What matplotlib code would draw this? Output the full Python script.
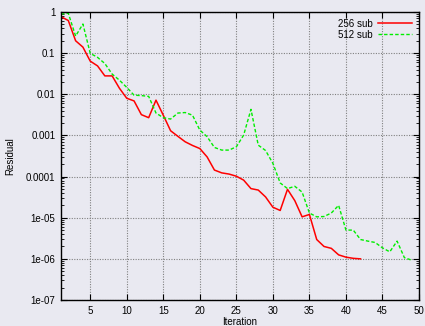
import matplotlib
matplotlib.use("Agg")
import matplotlib.pyplot as plt
from matplotlib.ticker import LogLocator, FixedLocator, NullFormatter

plt.rcParams['font.family'] = ['Liberation Sans', 'DejaVu Sans']

# Residual history per iteration for the two subdomain counts
res_256 = [0.77, 0.62, 0.20, 0.14, 0.064, 0.049, 0.028, 0.028, 0.014, 0.008,
           0.0069, 0.0032, 0.0027, 0.0072, 0.0031, 0.0013, 0.00095, 0.0007, 0.00057, 0.00048,
           0.0003, 0.000144, 0.000123, 0.000115, 0.000102, 8.2e-5, 5.1e-5, 4.7e-5, 3.2e-5, 1.8e-5,
           1.5e-5, 4.9e-5, 2.6e-5, 1.05e-5, 1.2e-5, 2.95e-6, 2.0e-6, 1.8e-6, 1.25e-6, 1.1e-6,
           1.03e-6, 1.0e-6]
res_512 = [0.89, 0.93, 0.26, 0.51, 0.099, 0.079, 0.056, 0.031, 0.022, 0.0147,
           0.0095, 0.0093, 0.0089, 0.0035, 0.0027, 0.0025, 0.0035, 0.0036, 0.0031, 0.00135,
           0.00093, 0.00051, 0.00044, 0.00044, 0.00053, 0.00102, 0.0043, 0.00058, 0.00043, 0.00021,
           7.0e-5, 5.1e-5, 5.8e-5, 4.2e-5, 1.3e-5, 1.05e-5, 1.07e-5, 1.3e-5, 2.0e-5, 5.0e-6,
           5.0e-6, 2.95e-6, 2.7e-6, 2.5e-6, 1.85e-6, 1.48e-6, 2.7e-6, 1.07e-6, 0.93e-6]
iters_256 = list(range(1, len(res_256) + 1))
iters_512 = list(range(1, len(res_512) + 1))

x_ticks = [5, 10, 15, 20, 25, 30, 35, 40, 45, 50]
y_ticks = [1, 0.1, 0.01, 0.001, 0.0001, 1e-05, 1e-06, 1e-07]
y_tick_labels = ["1", "0.1", "0.01", "0.001", "0.0001", "1e-05", "1e-06", "1e-07"]

bg = '#e9e9f1'
fig = plt.figure(figsize=(4.25, 3.26), dpi=100, facecolor=bg)
ax = fig.add_axes([61 / 425, 1 - 300 / 326, (419 - 61) / 425, (300 - 12) / 326])
ax.set_facecolor(bg)

ax.plot(iters_256, res_256, color='#ff0000', lw=1.1, label='256 sub')
ax.plot(iters_512, res_512, color='#00ee00', lw=1.0, dashes=(2.5, 1.5), label='512 sub')

ax.set_yscale('log')
ax.set_xlim(1, 50)
ax.set_ylim(1e-7, 1)

ax.xaxis.set_major_locator(FixedLocator(x_ticks))
ax.set_xticklabels([str(t) for t in x_ticks])
ax.yaxis.set_major_locator(FixedLocator(y_ticks))
ax.set_yticklabels(y_tick_labels)
ax.yaxis.set_minor_locator(LogLocator(base=10, subs=range(2, 10), numticks=20))
ax.yaxis.set_minor_formatter(NullFormatter())

ax.tick_params(which='both', direction='in', top=True, right=True, labelsize=7, pad=4,
               colors='black')
ax.tick_params(which='major', length=4, width=0.8)
ax.tick_params(which='minor', length=2, width=0.6)

ax.grid(True, which='major', color='#808080', linestyle=(0, (1, 1.3)), linewidth=0.8)
for s in ax.spines.values():
    s.set_linewidth(1.0)
    s.set_color('black')

ax.set_xlabel('Iteration', fontsize=7, labelpad=1)
ax.set_ylabel('Residual', fontsize=7, labelpad=8)

leg = ax.legend(loc='upper right', fontsize=7, frameon=False, markerfirst=False,
                handlelength=3.5, handletextpad=0.6, borderaxespad=0.3,
                labelspacing=0.1)

fig.savefig('out.png', dpi=100, facecolor=bg)
